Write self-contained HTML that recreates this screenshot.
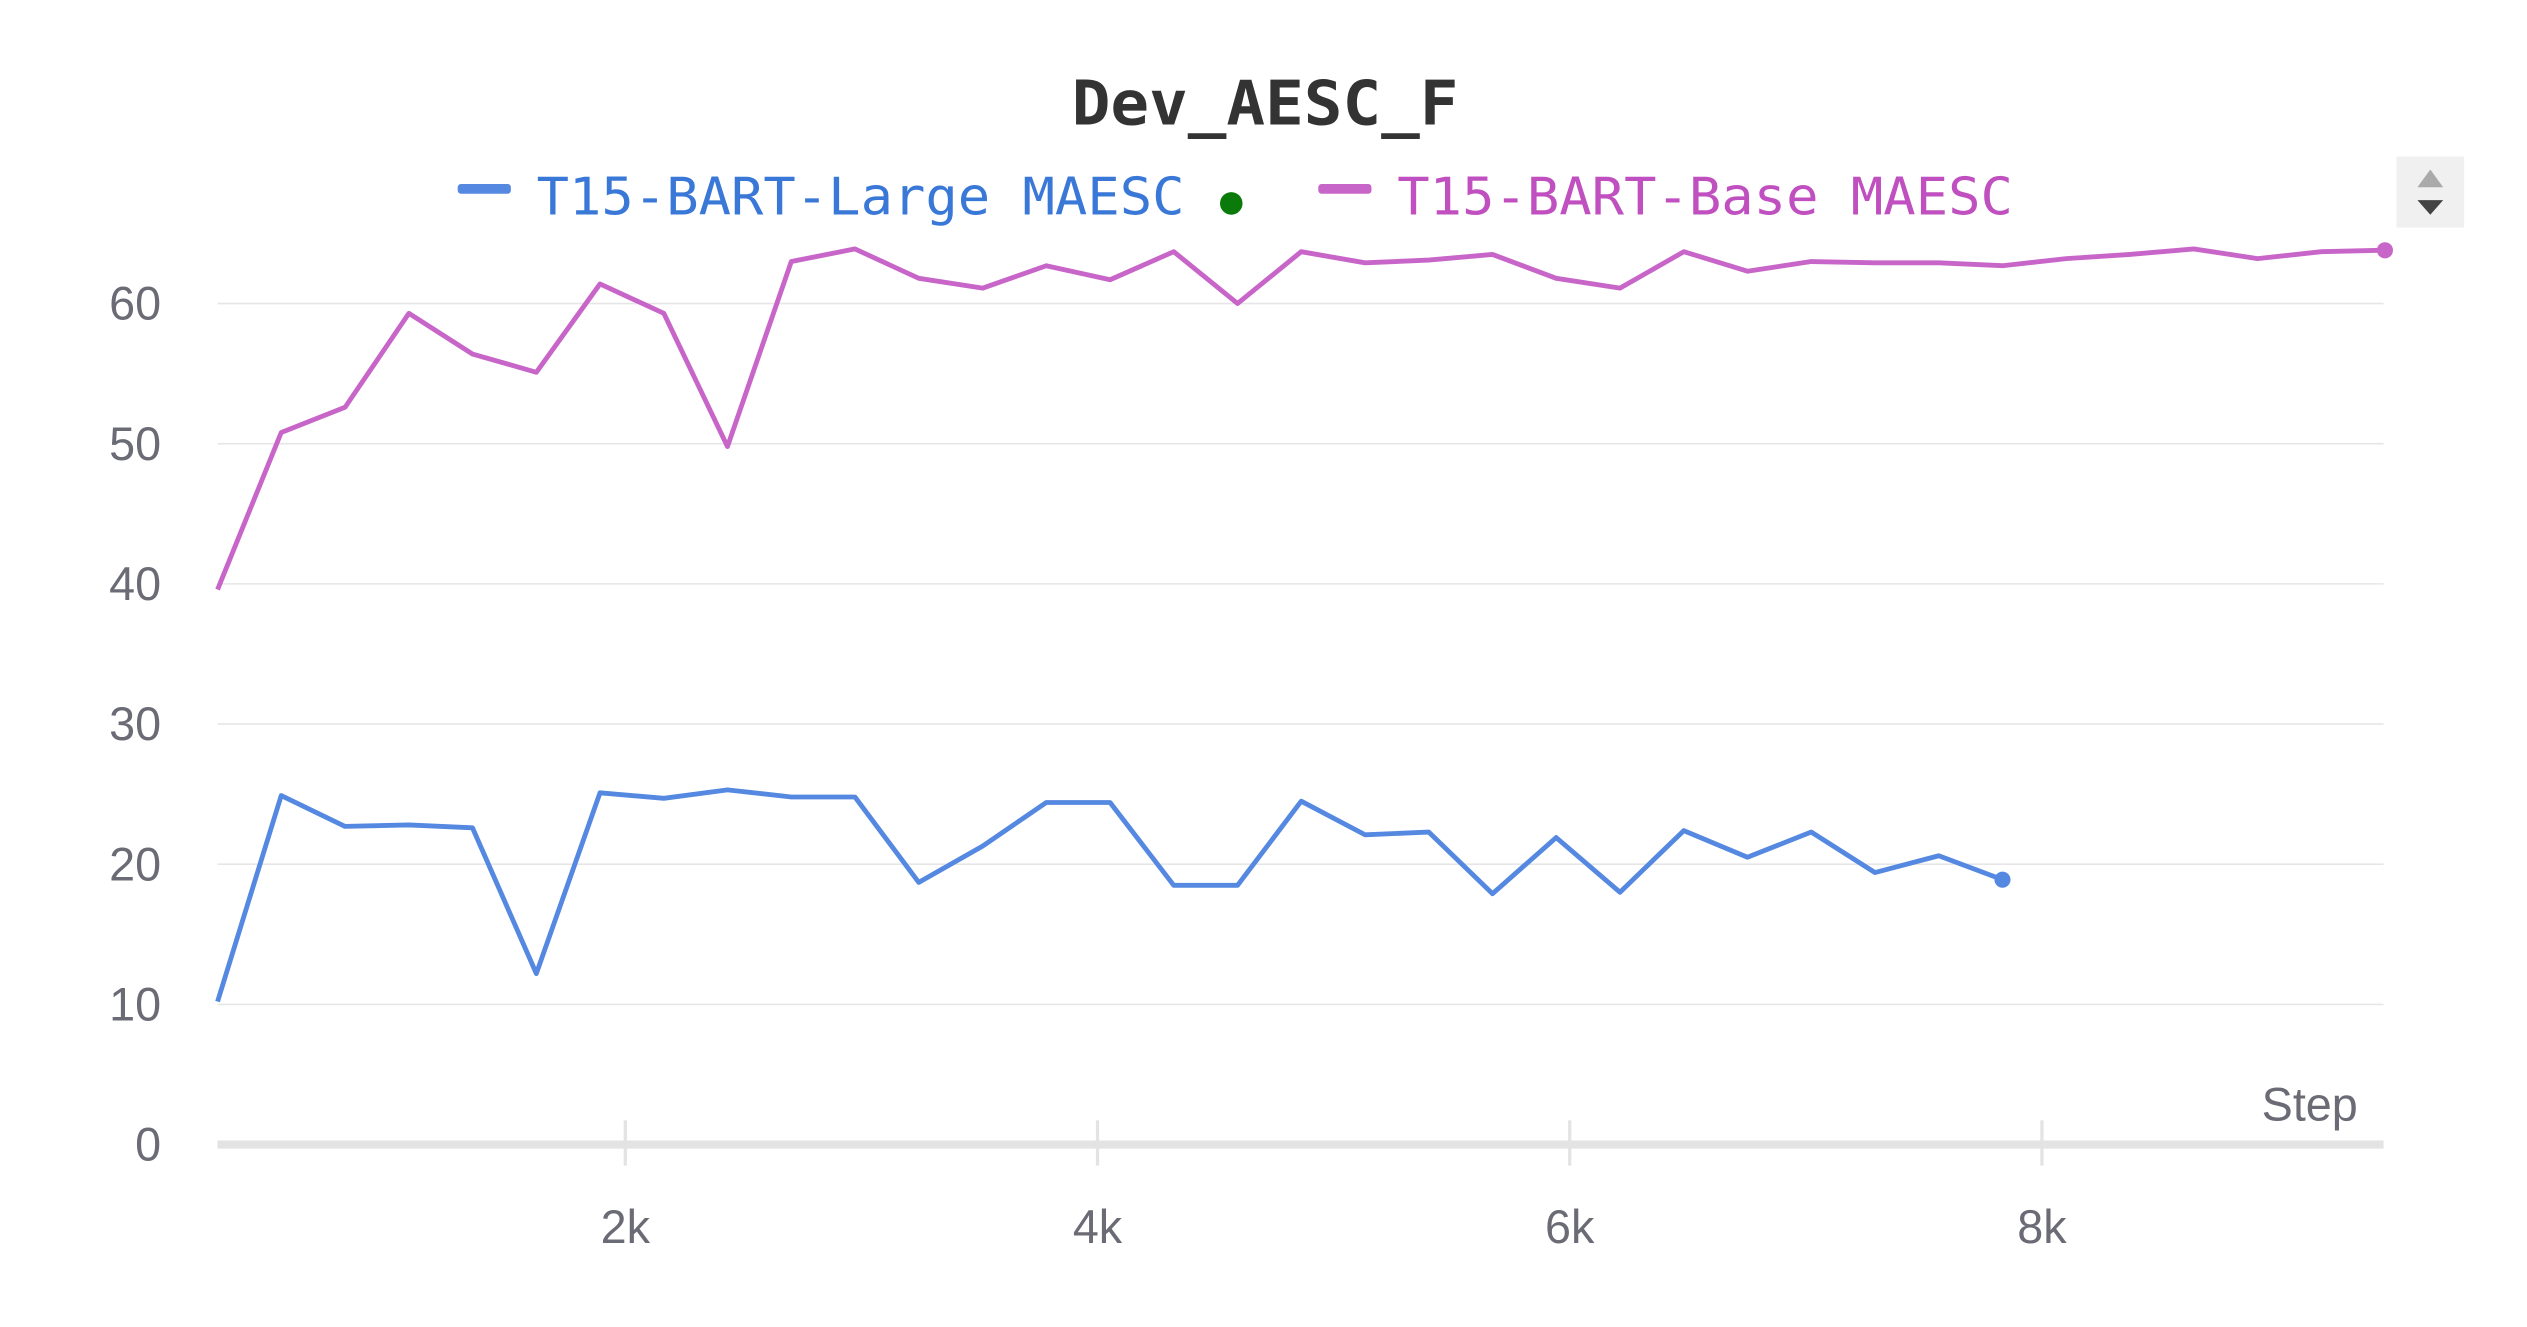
<!DOCTYPE html>
<html><head><meta charset="utf-8"><style>
html,body{margin:0;padding:0;background:#fff;}
svg{display:block;}
</style></head><body>
<svg id="chart" width="2527" height="1327" viewBox="0 0 1568 822" preserveAspectRatio="none" xmlns="http://www.w3.org/2000/svg">
<text x="785" y="77" text-anchor="middle" font-family="'DejaVu Sans Mono','Liberation Mono',monospace" font-weight="bold" font-size="38" fill="#333" textLength="240" lengthAdjust="spacingAndGlyphs">Dev_AESC_F</text>
<g>
<g>
<rect x="284" y="114" width="33" height="6" rx="2" fill="#5588e0"/>
<text x="333" y="133" font-family="'DejaVu Sans Mono','Liberation Mono',monospace" font-size="32" fill="#3a78d8" textLength="402" lengthAdjust="spacingAndGlyphs">T15-BART-Large MAESC</text>
</g>
<circle cx="764" cy="126" r="7" fill="#0a7a0a"/>
<g>
<rect x="818" y="114" width="33" height="6" rx="2" fill="#c865c8"/>
<text x="867" y="133" font-family="'DejaVu Sans Mono','Liberation Mono',monospace" font-size="32" fill="#c050c0" textLength="382" lengthAdjust="spacingAndGlyphs">T15-BART-Base MAESC</text>
</g>
</g>
<g>
<rect x="1487" y="97" width="42" height="44" fill="#f0f0f0"/>
<polygon points="1500,116 1516,116 1508,105" fill="#aaa"/>
<polygon points="1500,124 1516,124 1508,133" fill="#444"/>
</g>
<g id="grid"></g>
<g id="axes"></g>
<g id="series"></g>
</svg>
<script>
const steps = [];
const baseValues = [39.6,50.8,52.6,59.3,56.4,55.1,61.4,59.3,49.8,63.0,63.9,61.8,61.1,62.7,61.7,63.7,60.0,63.7,62.9,63.1,63.5,61.8,61.1,63.7,62.3,63.0,62.9,62.9,62.7,63.2,63.5,63.9,63.2,63.7,63.8];
const largeValues = [10.2,24.9,22.7,22.8,22.6,12.2,25.1,24.7,25.3,24.8,24.8,18.7,21.3,24.4,24.4,18.5,18.5,24.5,22.1,22.3,17.9,21.9,18.0,22.4,20.5,22.3,19.4,20.6,18.9];
const stepStart = 273, stepSize = 270;
const yTicks = [0,10,20,30,40,50,60];
const xTicks = [2000,4000,6000,8000];
const xTickLabels = ["2k","4k","6k","8k"];
for (let i = 0; i < baseValues.length; i++) steps.push(stepStart + i * stepSize);

const NS = "http://www.w3.org/2000/svg";
const X = s => 95 + s * 0.1465;
const Y = v => 709 - v * 8.683;
function mk(tag, attrs, parent) {
  const e = document.createElementNS(NS, tag);
  for (const k in attrs) e.setAttribute(k, attrs[k]);
  parent.appendChild(e);
  return e;
}
const grid = document.getElementById('grid');
const axes = document.getElementById('axes');
const series = document.getElementById('series');
yTicks.forEach(v => {
  if (v > 0) {
    const l = mk('line', {x1:135, x2:1479, y1:Y(v), y2:Y(v), stroke:'#e6e6e6', 'stroke-width':1}, grid);
    
    
  }
  const t = mk('text', {x:100, y:Y(v)+10, 'text-anchor':'end', 'font-family':"'Liberation Sans',sans-serif", 'font-size':29, fill:'#6b6b76'}, axes);
  t.textContent = v;
  
  
});
const ax = mk('line', {x1:135, x2:1479, y1:Y(0), y2:Y(0), stroke:'#e3e3e3', 'stroke-width':5}, axes);


xTicks.forEach((s, i) => {
  const tk = mk('line', {x1:X(s), x2:X(s), y1:694, y2:722, stroke:'#e3e3e3', 'stroke-width':2}, axes);
  
  
  const t = mk('text', {x:X(s), y:770, 'text-anchor':'middle', 'font-family':"'Liberation Sans',sans-serif", 'font-size':29, fill:'#6b6b76'}, axes);
  t.textContent = xTickLabels[i];
  
  
});
const st = mk('text', {x:1463, y:694, 'text-anchor':'end', 'font-family':"'Liberation Sans',sans-serif", 'font-size':29, fill:'#6b6b76'}, axes);
st.textContent = 'Step';



function drawSeries(vals, color, name) {
  const pts = vals.map((v, i) => X(steps[i]).toFixed(1) + ',' + Y(v).toFixed(1)).join(' ');
  const pl = mk('polyline', {points:pts, fill:'none', stroke:color, 'stroke-width':3, 'stroke-linejoin':'round'}, series);
  
  
  const n = vals.length - 1;
  const c = mk('circle', {cx:X(steps[n]), cy:Y(vals[n]), r:5, fill:color}, series);
  
  
}
drawSeries(baseValues, '#c865c8', 'base-series');
drawSeries(largeValues, '#5588e0', 'large-series');
</script>
</body></html>
